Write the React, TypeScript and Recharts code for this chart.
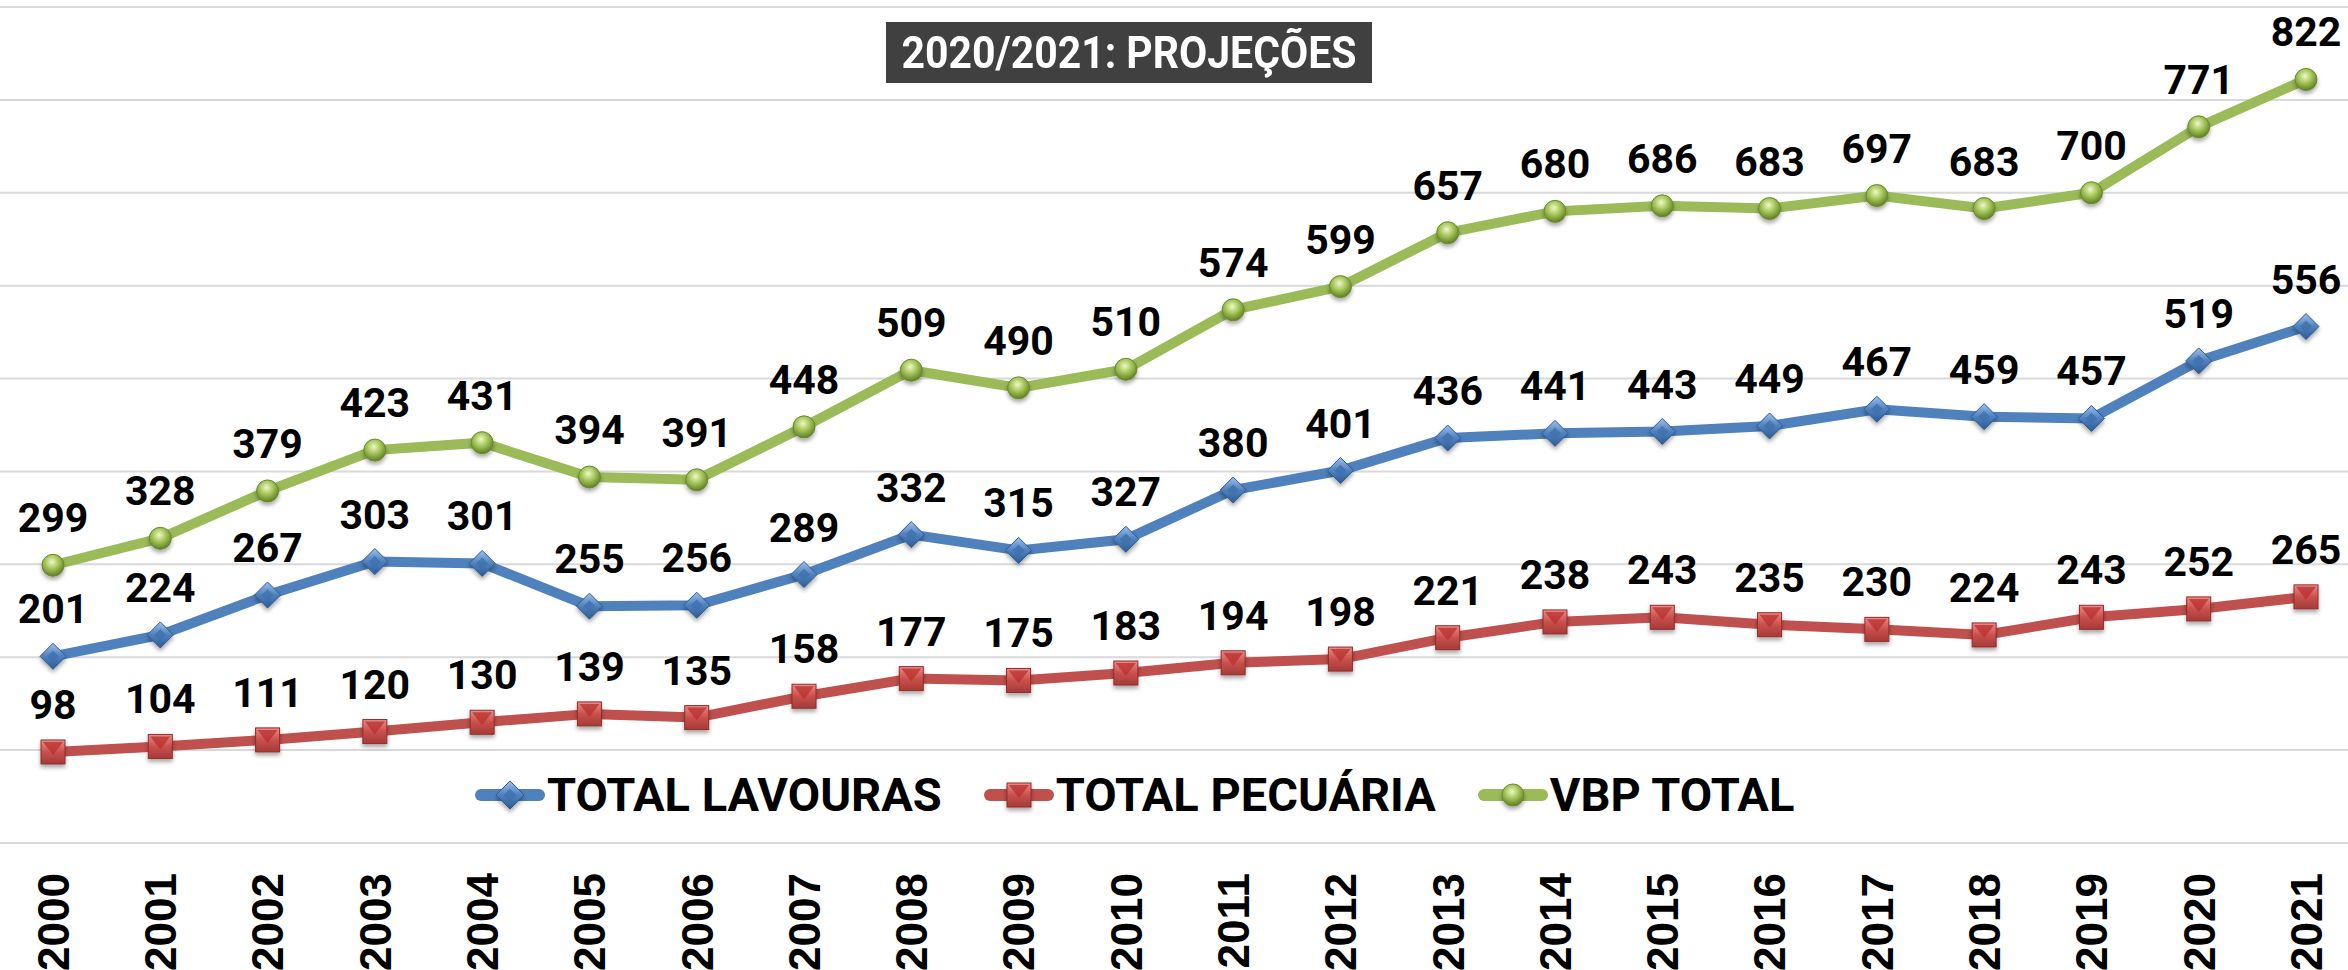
import React from "react";
import { CartesianGrid, LabelList, Line, LineChart, XAxis, YAxis } from "recharts";

const years = [
  "2000", "2001", "2002", "2003", "2004", "2005", "2006", "2007", "2008", "2009", "2010",
  "2011", "2012", "2013", "2014", "2015", "2016", "2017", "2018", "2019", "2020", "2021",
];
const totalLavouras = [201, 224, 267, 303, 301, 255, 256, 289, 332, 315, 327, 380, 401, 436, 441, 443, 449, 467, 459, 457, 519, 556];
const totalPecuaria = [98, 104, 111, 120, 130, 139, 135, 158, 177, 175, 183, 194, 198, 221, 238, 243, 235, 230, 224, 243, 252, 265];
const vbpTotal = [299, 328, 379, 423, 431, 394, 391, 448, 509, 490, 510, 574, 599, 657, 680, 686, 683, 697, 683, 700, 771, 822];
const yTicks = [0, 100, 200, 300, 400, 500, 600, 700, 800, 900];

const data = years.map((year, i) => ({
  year,
  lavouras: totalLavouras[i],
  pecuaria: totalPecuaria[i],
  vbp: vbpTotal[i],
}));

const BLUE = "#4f81bd";
const RED = "#c0504d";
const GREEN = "#9bbb59";
const LABEL_FONT = "Roboto, 'Liberation Sans', Arial, sans-serif";

function Diamond({ cx, cy, s = 13 }: any) {
  if (cx == null || cy == null) return null;
  return (
    <g filter="url(#mkShadow)">
      <polygon points={`${cx},${cy - s} ${cx + s},${cy} ${cx},${cy + s} ${cx - s},${cy}`} fill="url(#gDia)" stroke="#2f5d94" strokeWidth={1} />
      <polygon points={`${cx},${cy - s * 0.45} ${cx + s * 0.45},${cy} ${cx},${cy + s * 0.45} ${cx - s * 0.45},${cy}`} fill="#3f70ad" opacity={0.8} />
    </g>
  );
}

function Square({ cx, cy, s = 12 }: any) {
  if (cx == null || cy == null) return null;
  return (
    <g filter="url(#mkShadow)">
      <rect x={cx - s} y={cy - s} width={s * 2} height={s * 2} fill="url(#gSq)" stroke="#8e2f2c" strokeWidth={1} />
      <polygon points={`${cx - s + 2},${cy - s + 2} ${cx + s - 2},${cy - s + 2} ${cx},${cy + 3}`} fill="#b8302d" opacity={0.75} />
    </g>
  );
}

function Ball({ cx, cy, r = 11 }: any) {
  if (cx == null || cy == null) return null;
  return (
    <g filter="url(#mkShadow)">
      <circle cx={cx} cy={cy} r={r} fill="url(#gBall)" stroke="#6a8a2c" strokeWidth={1} />
    </g>
  );
}

const renderLabel = (props: any) => {
  const { x, y, value } = props;
  return (
    <text x={x} y={y - 33} textAnchor="middle" fontFamily={LABEL_FONT} fontWeight={700} fontSize={41} fill="#000">
      {value}
    </text>
  );
};

function YearTick({ x, y, payload }: any) {
  return (
    <g transform={`translate(${x},${y}) rotate(-90)`}>
      <text x={0} y={0} dy="0.36em" textAnchor="end" fontFamily="'Liberation Sans', Arial, sans-serif" fontWeight={700} fontSize={44} fill="#000">
        {payload.value}
      </text>
    </g>
  );
}

function LegendItem({ color, label, marker }: { color: string; label: string; marker: string }) {
  return (
    <div style={{ display: "flex", alignItems: "center" }}>
      <svg width={70} height={34} style={{ overflow: "visible" }}>
        <line x1={6} y1={17} x2={64} y2={17} stroke={color} strokeWidth={12} strokeLinecap="round" />
        {marker === "diamond" && <Diamond cx={35} cy={17} s={14} />}
        {marker === "square" && <Square cx={35} cy={17} s={12} />}
        {marker === "ball" && <Ball cx={35} cy={17} r={11} />}
      </svg>
      <span style={{ fontFamily: LABEL_FONT, fontWeight: 700, fontSize: 47, color: "#000", marginLeft: 2, lineHeight: 1, whiteSpace: "nowrap" }}>
        {label}
      </span>
    </div>
  );
}

export default function App() {
  return (
    <div style={{ position: "absolute", left: 0, top: 0, width: 2348, height: 970, background: "#fff", overflow: "hidden" }}>
      <LineChart width={2348} height={970} data={data} margin={{ top: 7, right: 0, left: 0, bottom: 0 }}>
        <defs>
          <filter id="mkShadow" x="-60%" y="-60%" width="220%" height="220%">
            <feDropShadow dx="0" dy="3" stdDeviation="2" floodColor="#000" floodOpacity="0.35" />
          </filter>
          <radialGradient id="gBall" cx="45%" cy="35%" r="65%">
            <stop offset="0%" stopColor="#eef8c8" />
            <stop offset="45%" stopColor="#a9c95e" />
            <stop offset="100%" stopColor="#5e7d22" />
          </radialGradient>
          <linearGradient id="gDia" x1="0" y1="0" x2="0" y2="1">
            <stop offset="0%" stopColor="#9cc0ee" />
            <stop offset="50%" stopColor="#4f81bd" />
            <stop offset="100%" stopColor="#2d5a92" />
          </linearGradient>
          <linearGradient id="gSq" x1="0" y1="0" x2="0" y2="1">
            <stop offset="0%" stopColor="#f08a87" />
            <stop offset="50%" stopColor="#c9504c" />
            <stop offset="100%" stopColor="#a53a37" />
          </linearGradient>
        </defs>
        <CartesianGrid horizontal vertical={false} stroke="#d9d9d9" strokeWidth={2} />
        <XAxis
          dataKey="year"
          interval={0}
          axisLine={false}
          tickLine={false}
          tickSize={0}
          tickMargin={30}
          height={127}
          padding={{ left: 53, right: 42 }}
          tick={<YearTick />}
        />
        <YAxis hide domain={[0, 900]} ticks={yTicks} />
        <Line
          dataKey="pecuaria"
          stroke={RED}
          strokeWidth={10}
          isAnimationActive={false}
          dot={(p: any) => <Square key={`sq-${p.index}`} cx={p.cx} cy={p.cy} />}
          activeDot={false}
        >
          <LabelList dataKey="pecuaria" content={renderLabel} />
        </Line>
        <Line
          dataKey="lavouras"
          stroke={BLUE}
          strokeWidth={10}
          isAnimationActive={false}
          dot={(p: any) => <Diamond key={`di-${p.index}`} cx={p.cx} cy={p.cy} />}
          activeDot={false}
        >
          <LabelList dataKey="lavouras" content={renderLabel} />
        </Line>
        <Line
          dataKey="vbp"
          stroke={GREEN}
          strokeWidth={10}
          isAnimationActive={false}
          dot={(p: any) => <Ball key={`ba-${p.index}`} cx={p.cx} cy={p.cy} />}
          activeDot={false}
        >
          <LabelList dataKey="vbp" content={renderLabel} />
        </Line>
      </LineChart>

      <div
        style={{
          position: "absolute",
          left: 886,
          top: 22,
          width: 486,
          height: 61,
          background: "#404040",
          color: "#fff",
          display: "flex",
          alignItems: "center",
          justifyContent: "center",
          overflow: "hidden",
        }}
      >
        <span
          style={{
            fontFamily: LABEL_FONT,
            fontWeight: 700,
            fontSize: 45,
            lineHeight: 1,
            whiteSpace: "nowrap",
            display: "inline-block",
            transform: "scaleX(0.91)",
          }}
        >
          2020/2021: PROJEÇÕES
        </span>
      </div>

      <div style={{ position: "absolute", left: 475, top: 771, display: "flex", alignItems: "center", gap: 42 }}>
        <LegendItem color={BLUE} label="TOTAL LAVOURAS" marker="diamond" />
        <LegendItem color={RED} label="TOTAL PECUÁRIA" marker="square" />
        <LegendItem color={GREEN} label="VBP TOTAL" marker="ball" />
      </div>
    </div>
  );
}
